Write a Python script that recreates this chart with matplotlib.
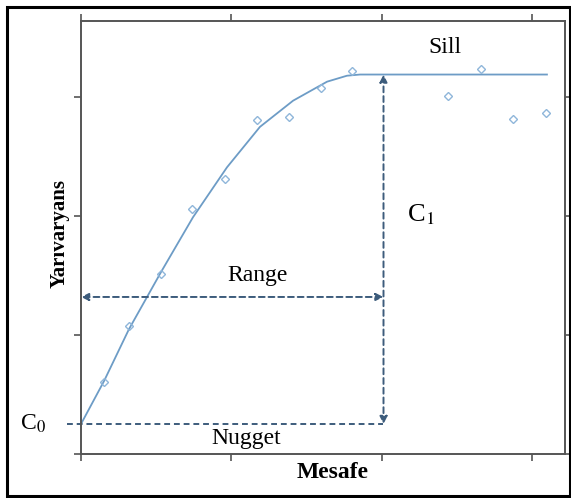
import numpy as np
from matplotlib import pyplot as plt
from matplotlib.patches import Rectangle

plt.rcParams['font.family'] = ['Liberation Serif', 'DejaVu Serif']
plt.rcParams['mathtext.fontset'] = 'stix'

# experimental points (distance, semivariance)
dist = [0.153, 0.319, 0.532, 0.738, 0.957, 1.169, 1.382, 1.595, 1.801, 2.439, 2.658, 2.870, 3.090]
gamma = [0.605, 1.076, 1.513, 2.059, 2.311, 2.807, 2.832, 3.076, 3.218, 3.008, 3.235, 2.815, 2.866]

# fitted model curve
curve_x = [0.0, 0.153, 0.319, 0.532, 0.744, 0.970, 1.189, 1.409, 1.635, 1.767, 1.854, 3.096]
curve_y = [0.252, 0.613, 1.05, 1.53, 1.99, 2.41, 2.75, 2.97, 3.13, 3.18, 3.19, 3.19]

nugget = 0.252
sill = 3.19
range_a = 2.01
range_y = 1.32

fig = plt.figure(figsize=(5.71, 4.98), dpi=100)
ax = fig.add_axes([81/571, 1 - 454/498, (565 - 81)/571, (454 - 21)/498])

line_col = "#6d9cc6"
arrow_col = "#3d5c7c"

ax.plot(curve_x, curve_y, color=line_col, lw=1.3)
ax.plot(dist, gamma, linestyle="none", marker="D", ms=4, mfc="none", mec="#8fb6da", mew=1.0)

# nugget line
ax.plot([-0.09, range_a], [nugget, nugget], color=arrow_col, lw=1.4, ls=(0, (3, 2)), clip_on=False)

# range arrow
ax.annotate("", xy=(0.0, range_y), xytext=(range_a, range_y),
            arrowprops=dict(arrowstyle="<|-|>", color=arrow_col, lw=1.4, ls=(0, (3, 2)),
                            mutation_scale=11, shrinkA=0, shrinkB=0))
# partial sill arrow
ax.annotate("", xy=(range_a, nugget), xytext=(range_a, sill),
            arrowprops=dict(arrowstyle="<|-|>", color=arrow_col, lw=1.4, ls=(0, (3, 2)),
                            mutation_scale=11, shrinkA=0, shrinkB=0))

ax.text(2.42, 3.42, "Sill", fontsize=17, ha="center", va="center")
ax.text(2.26, 2.01, r"C$_\mathrm{1}$", fontsize=19, ha="center", va="center")
ax.text(1.17, 1.50, "Range", fontsize=17, ha="center", va="center")
ax.text(1.10, 0.13, "Nugget", fontsize=17, ha="center", va="center")
ax.text(-0.316, 0.25, r"C$_\mathrm{0}$", fontsize=17, ha="center", va="center", clip_on=False)

ax.set_xlim(0, 3.216)
ax.set_ylim(0, 3.64)
ax.set_xticks([0, 1, 2, 3])
ax.set_yticks([0, 1, 2, 3])
ax.tick_params(direction="out", length=5, width=1.2, color="#555555",
               top=True, right=True, labelbottom=False, labelleft=False)
for s in ax.spines.values():
    s.set_color("#555555")
    s.set_linewidth(1.4)

ax.set_xlabel("Mesafe", fontsize=17, fontweight="bold", labelpad=1, x=0.52)
ax.set_ylabel("Yarıvaryans", fontsize=15, fontweight="bold", labelpad=3, y=0.51)

# black frame around the whole figure
fig.patches.append(Rectangle((7/571, 2/498), 563/571, 489/498, transform=fig.transFigure,
                             fill=False, edgecolor="black", lw=2.2))

plt.savefig("out.png", dpi=100)
